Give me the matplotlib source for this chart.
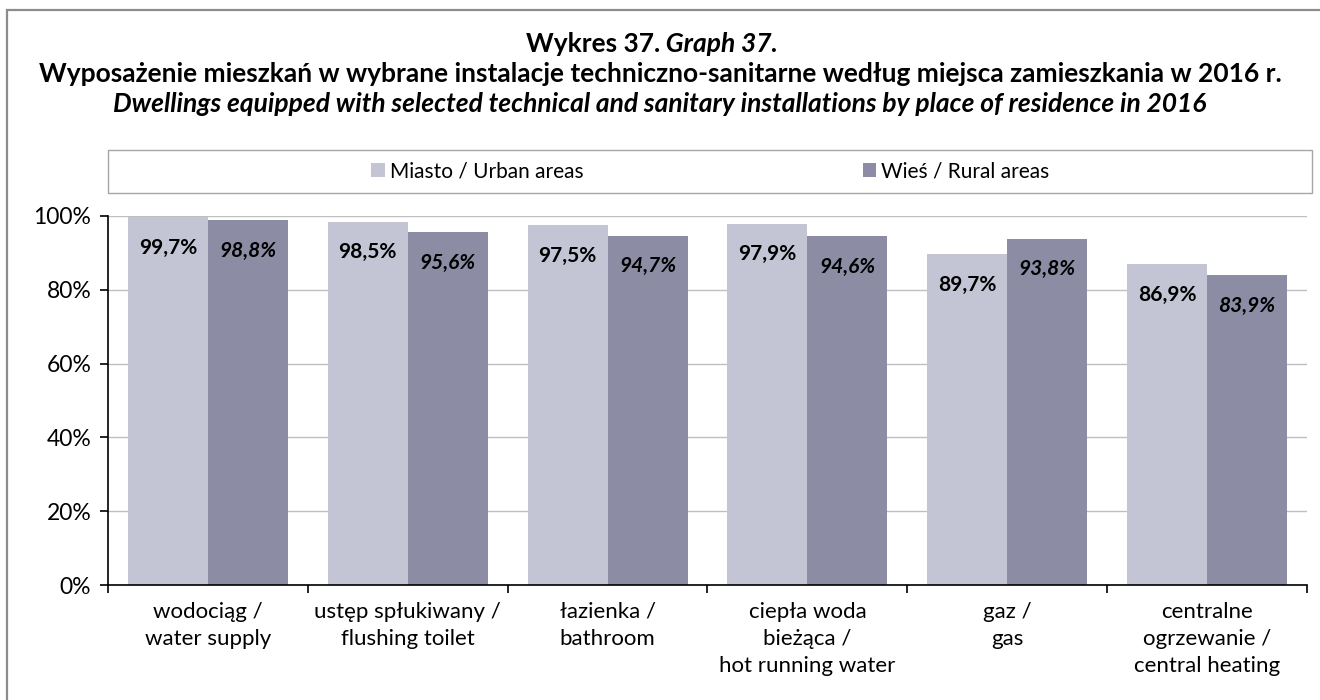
import matplotlib
matplotlib.use("Agg")
import matplotlib.pyplot as plt
from matplotlib.patches import Rectangle
from matplotlib.ticker import FixedLocator, PercentFormatter
import numpy as np

# chart data
categories = ['wodociąg /\nwater supply', 'ustęp spłukiwany /\nflushing toilet',
              'łazienka /\nbathroom', 'ciepła woda\nbieżąca /\nhot running water',
              'gaz /\ngas', 'centralne\nogrzewanie /\ncentral heating']
urban = [99.7, 98.5, 97.5, 97.9, 89.7, 86.9]
rural = [98.8, 95.6, 94.7, 94.6, 93.8, 83.9]
seriesLabels = ['Miasto / Urban areas', 'Wieś / Rural areas']

urbanColor = '#C3C5D4'
ruralColor = '#8C8DA5'
gridColor = '#BFBFBF'

plt.rcParams['font.family'] = ['Lato', 'DejaVu Sans']

W, H = 1320, 700
fig = plt.figure(figsize=(W / 100, H / 100), dpi=100)
fig.patch.set_facecolor('white')

# outer chart frame (left and top edges only visible)
fig.add_artist(Rectangle((7 / W, -0.1), 1.2, 1.1 - 10 / H, transform=fig.transFigure,
                         fill=False, edgecolor='#8C8C8C', lw=1.6, clip_on=False))

# titles
titleSize = 19
fig.text(0.5, 1 - 44 / H, 'Wykres 37.', ha='right', va='center', fontsize=titleSize, fontweight='bold')
fig.text(0.5, 1 - 44 / H, ' Graph 37.', ha='left', va='center', fontsize=titleSize,
         fontweight='bold', fontstyle='italic')
fig.text(0.5, 1 - 74 / H,
         'Wyposażenie mieszkań w wybrane instalacje techniczno-sanitarne według miejsca zamieszkania w 2016 r.',
         ha='center', va='center', fontsize=titleSize, fontweight='bold')
fig.text(0.5, 1 - 104 / H,
         'Dwellings equipped with selected technical and sanitary installations by place of residence in 2016',
         ha='center', va='center', fontsize=titleSize, fontweight='bold', fontstyle='italic')

ax = fig.add_axes([108 / W, 1 - 585 / H, (1307 - 108) / W, (585 - 216) / H])

x = np.arange(len(categories))
bw = 0.4
b1 = ax.bar(x - bw / 2, urban, bw, color=urbanColor, label=seriesLabels[0], zorder=2)
b2 = ax.bar(x + bw / 2, rural, bw, color=ruralColor, label=seriesLabels[1], zorder=2)

# value labels inside the top of each bar
for xi, v in zip(x, urban):
    ax.annotate(f'{v:.1f}%'.replace('.', ','), (xi - bw / 2, v), xytext=(0, -22),
                textcoords='offset points', ha='center', va='center',
                fontsize=15, fontweight='bold')
for xi, v in zip(x, rural):
    ax.annotate(f'{v:.1f}%'.replace('.', ','), (xi + bw / 2, v), xytext=(0, -22),
                textcoords='offset points', ha='center', va='center',
                fontsize=15, fontweight='bold', fontstyle='italic')

ax.set_xlim(-0.5, len(categories) - 0.5)
ax.set_ylim(0, 100)
ax.set_yticks(np.arange(0, 101, 20))
ax.yaxis.set_major_formatter(PercentFormatter(decimals=0))
ax.yaxis.grid(True, color=gridColor, lw=1, zorder=0)
ax.set_axisbelow(True)

ax.set_xticks(x)
ax.set_xticklabels(categories, fontsize=16, linespacing=1.45)
ax.xaxis.set_minor_locator(FixedLocator(np.arange(-0.5, len(categories), 1)))
ax.tick_params(axis='x', which='major', length=0, pad=12)
ax.tick_params(axis='x', which='minor', length=6, width=1.2, color='black')
ax.tick_params(axis='y', length=6, width=1.2, labelsize=16.5, pad=6)

for s in ['top', 'right']:
    ax.spines[s].set_visible(False)
for s in ['left', 'bottom']:
    ax.spines[s].set_linewidth(1.2)

# legend box
fig.add_artist(Rectangle((108 / W, 1 - 193 / H), (1312 - 108) / W, 43 / H,
                         transform=fig.transFigure, fill=False, edgecolor='#A6A6A6', lw=1))
fig.legend(handles=[b1, b2], labels=seriesLabels, loc='center left',
           bbox_to_anchor=(371 / W, 1 - 171 / H), ncol=2, frameon=False, fontsize=15,
           handlelength=0.65, handleheight=0.65, handletextpad=0.25, columnspacing=13.4,
           borderpad=0, borderaxespad=0)

plt.savefig('out.png', dpi=100)
plt.close()
